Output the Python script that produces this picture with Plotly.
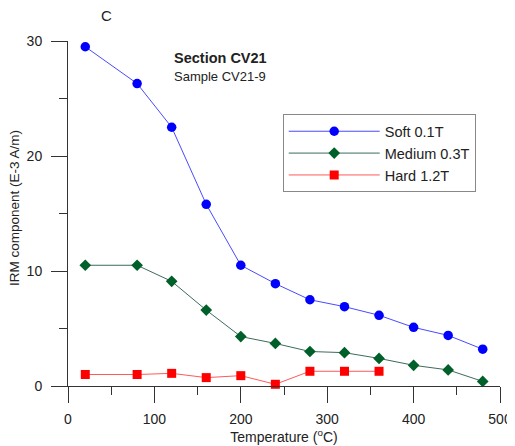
import plotly.graph_objects as go

temps = [20, 80, 120, 160, 200, 240, 280, 320, 360, 400, 440, 480]
soft = [29.5, 26.3, 22.5, 15.8, 10.5, 8.9, 7.5, 6.9, 6.15, 5.1, 4.4, 3.2]
medium = [10.5, 10.5, 9.1, 6.6, 4.3, 3.7, 3.0, 2.9, 2.4, 1.8, 1.4, 0.4]
hard_temps = [20, 80, 120, 160, 200, 240, 280, 320, 360]
hard = [1.0, 1.0, 1.1, 0.73, 0.9, 0.15, 1.28, 1.28, 1.28]

FONT = "Liberation Sans, Arial, sans-serif"
TXT = "#222222"

fig = go.Figure()
fig.add_trace(go.Scatter(
    x=temps, y=soft, name="Soft 0.1T", mode="lines+markers",
    line=dict(color="#4a4aff", width=1),
    marker=dict(symbol="circle", size=9.5, color="#0000ff"),
    cliponaxis=False))
fig.add_trace(go.Scatter(
    x=temps, y=medium, name="Medium 0.3T", mode="lines+markers",
    line=dict(color="#3d6b5c", width=1),
    marker=dict(symbol="diamond", size=9, color="#00602a"),
    cliponaxis=False))
fig.add_trace(go.Scatter(
    x=hard_temps, y=hard, name="Hard 1.2T", mode="lines+markers",
    line=dict(color="#ff5a5a", width=1),
    marker=dict(symbol="square", size=9, color="#ff0000"),
    cliponaxis=False))

axis_common = dict(
    showgrid=False, zeroline=False, showline=True, linecolor="#333333", linewidth=1,
    ticks="outside", ticklen=16, tickwidth=1, tickcolor="#333333",
    tickfont=dict(family=FONT, size=14, color=TXT),
    minor=dict(ticks="outside", ticklen=8, tickwidth=1, tickcolor="#333333"),
    automargin=False,
)

fig.update_layout(
    width=507, height=438,
    margin=dict(l=60, r=15, t=33, b=60),
    paper_bgcolor="white", plot_bgcolor="white",
    font=dict(family=FONT, color=TXT),
    xaxis=dict(range=[0, 500], tickvals=[0, 100, 200, 300, 400, 500],
               minor_dtick=50, ticklabelstandoff=4,
               title=dict(text="Temperature (<sup>o</sup>C)", font=dict(family=FONT, size=14, color=TXT), standoff=0),
               **axis_common),
    yaxis=dict(range=[0, 30], tickvals=[0, 10, 20, 30], minor_dtick=5, ticklabelstandoff=6,
               **axis_common),
    legend=dict(x=0.497, y=0.7875, xanchor="left", yanchor="top",
                bordercolor="#888888", borderwidth=1, bgcolor="white",
                font=dict(family=FONT, size=14.5, color=TXT),
                itemwidth=91, tracegroupgap=0),
    showlegend=True,
    annotations=[
        dict(text="IRM component (E-3 A/m)", textangle=-90, x=-0.124, y=0.517,
             xref="paper", yref="paper", xanchor="center", yanchor="middle", showarrow=False,
             font=dict(family=FONT, size=13.5, color=TXT)),
        dict(text="C", x=0.09, y=1.074, xref="paper", yref="paper", showarrow=False,
             xanchor="center", yanchor="middle",
             font=dict(family=FONT, size=15, color=TXT)),
        dict(text="<b>Section CV21</b>", x=0.352, y=0.95, xref="paper", yref="paper", showarrow=False,
             xanchor="center", yanchor="middle",
             font=dict(family=FONT, size=14.5, color=TXT)),
        dict(text="Sample CV21-9", x=0.352, y=0.898, xref="paper", yref="paper", showarrow=False,
             xanchor="center", yanchor="middle",
             font=dict(family=FONT, size=13, color=TXT)),
    ],
)

fig.write_html("out.html")
